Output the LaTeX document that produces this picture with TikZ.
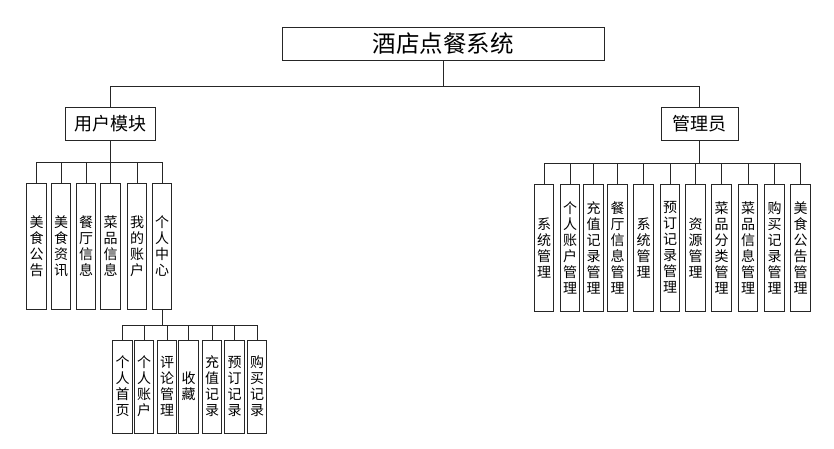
\documentclass[tikz,border=0pt]{standalone}
\usepackage{fontspec}
\setmainfont{Noto Sans CJK SC}
\begin{document}
\begin{tikzpicture}[x=1pt,y=-1pt,
  box/.style={draw=black!85,line width=0.9pt,inner sep=0pt,anchor=center},
  vb/.style={box,minimum width=19.5pt,align=center,font=\fontsize{14}{16}\selectfont},
  ln/.style={draw=black!85,line width=0.9pt}]
\useasboundingbox (0,0) rectangle (834,449);
% top
\node[box,minimum width=322pt,minimum height=33pt,font=\fontsize{23.5}{25}\selectfont] (title) at (443,43.5) {酒店点餐系统};
\node[box,minimum width=90pt,minimum height=33pt,font=\fontsize{18}{20}\selectfont] (user) at (110,123.5) {用户模块};
\node[box,minimum width=77pt,minimum height=33pt,font=\fontsize{18}{20}\selectfont] (admin) at (699.5,123.5) {管理员};
\coordinate (b0) at (0,86);
\draw[ln] (title.south) -- (title.south |- b0);
\draw[ln] (user.north) -- (user.north |- b0) -- (admin.north |- b0) -- (admin.north);
% user children
\coordinate (b1) at (0,162);
\foreach \n/\x/\t in {u1/36.5/{美\\食\\公\\告},u2/61/{美\\食\\资\\讯},u3/86/{餐\\厅\\信\\息},u4/110.5/{菜\\品\\信\\息},u5/137/{我\\的\\账\\户},u6/162/{个\\人\\中\\心}}{
  \node[vb,minimum height=126pt] (\n) at (\x,246) {\t};
  \draw[ln] (\n.north) -- (\n.north |- b1);
}
\draw[ln] (user.south) -- (user.south |- b1);
\draw[ln] (u1.north |- b1) -- (u6.north |- b1);
% sub children
\coordinate (b2) at (0,325);
\foreach \n/\x/\t in {s1/122.5/{个\\人\\首\\页},s2/144/{个\\人\\账\\户},s3/167/{评\\论\\管\\理},s4/188.5/{收\\藏},s5/212/{充\\值\\记\\录},s6/234.5/{预\\订\\记\\录},s7/257/{购\\买\\记\\录}}{
  \node[vb,minimum height=93pt] (\n) at (\x,386.5) {\t};
  \draw[ln] (\n.north) -- (\n.north |- b2);
}
\draw[ln] (u6.south) -- (u6.south |- b2);
\draw[ln] (s1.north |- b2) -- (s7.north |- b2);
% admin children
\coordinate (b3) at (0,163);
\foreach \n/\x/\t in {a1/544/{系\\统\\管\\理},a2/570/{个\\人\\账\\户\\管\\理},a3/593.5/{充\\值\\记\\录\\管\\理},a4/617.5/{餐\\厅\\信\\息\\管\\理},a5/643.5/{系\\统\\管\\理},a6/670/{预\\订\\记\\录\\管\\理},a7/695.5/{资\\源\\管\\理},a8/721.5/{菜\\品\\分\\类\\管\\理},a9/748/{菜\\品\\信\\息\\管\\理},a10/774.5/{购\\买\\记\\录\\管\\理},a11/800.5/{美\\食\\公\\告\\管\\理}}{
  \node[vb,minimum height=127pt] (\n) at (\x,247.5) {\t};
  \draw[ln] (\n.north) -- (\n.north |- b3);
}
\draw[ln] (admin.south) -- (admin.south |- b3);
\draw[ln] (a1.north |- b3) -- (a11.north |- b3);
\end{tikzpicture}
\end{document}
